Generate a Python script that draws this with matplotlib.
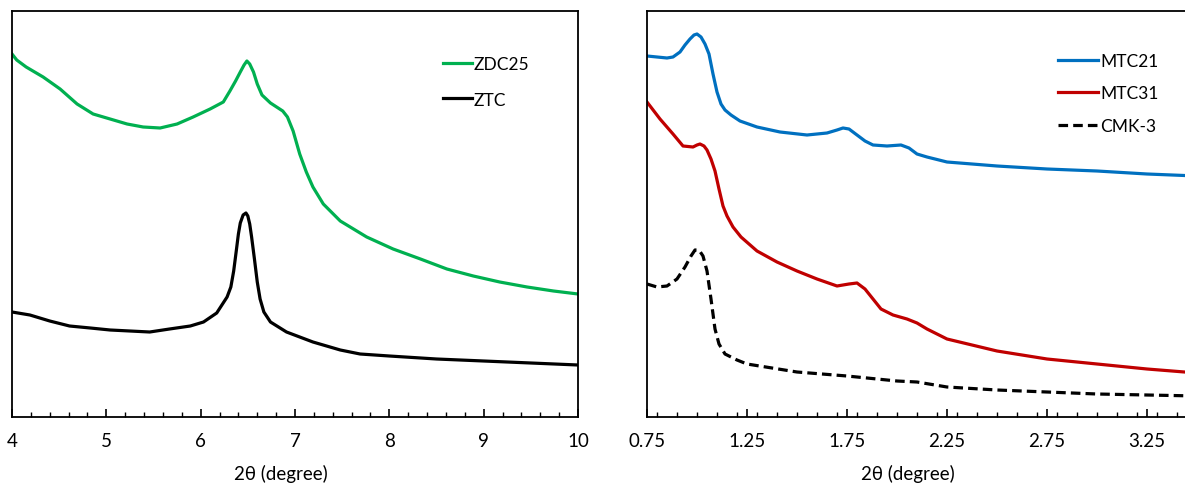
import matplotlib
matplotlib.use("Agg")
import matplotlib.pyplot as plt
from matplotlib.ticker import MultipleLocator, FixedLocator

plt.rcParams['font.family'] = ['Lato', 'DejaVu Sans']

# ---------------- data (intensity in a.u.) ----------------
zdc25_x = [4.00, 4.05, 4.15, 4.33, 4.51, 4.69, 4.86, 5.04, 5.22, 5.39, 5.57, 5.75, 5.92,
           6.10, 6.24, 6.31, 6.37, 6.42, 6.46, 6.49, 6.52, 6.56, 6.60, 6.65, 6.74, 6.87,
           6.92, 6.98, 7.05, 7.12, 7.19, 7.30, 7.48, 7.76, 8.04, 8.33, 8.61, 8.89, 9.17,
           9.46, 9.74, 10.00]
zdc25_y = [363, 357, 350, 340, 328, 313, 303, 298, 293, 290, 289, 293, 300,
           308, 315, 326, 336, 345, 352, 356, 353, 345, 333, 322, 314, 306,
           300, 286, 263, 245, 230, 213, 196, 180, 168, 158, 148, 141, 135,
           130, 126, 123]

ztc_x = [4.00, 4.19, 4.40, 4.61, 4.83, 5.04, 5.25, 5.46, 5.67, 5.89, 6.03, 6.17,
         6.28, 6.32, 6.35, 6.38, 6.40, 6.42, 6.45, 6.48, 6.50, 6.52, 6.54, 6.57,
         6.60, 6.63, 6.67, 6.74, 6.91, 7.19, 7.48, 7.69, 8.00, 8.50, 9.00, 9.50, 10.00]
ztc_y = [105, 102, 96, 91, 89, 87, 86, 85, 88, 91, 95, 104,
         120, 130, 146, 168, 183, 194, 202, 204, 201, 193, 180, 158,
         135, 118, 105, 95, 85, 75, 67, 63, 61, 58, 56, 54, 52]

mtc21_x = [0.75, 0.80, 0.85, 0.88, 0.915, 0.94, 0.965, 0.985, 1.00, 1.02, 1.04, 1.06,
           1.08, 1.10, 1.12, 1.14, 1.17, 1.215, 1.30, 1.415, 1.55, 1.65, 1.70, 1.73,
           1.76, 1.80, 1.84, 1.88, 1.95, 2.02, 2.06, 2.10, 2.15, 2.25, 2.50, 2.75,
           3.00, 3.25, 3.50]
mtc21_y = [361, 360, 359, 360, 365, 372, 378, 382, 383, 380, 373, 363,
           343, 325, 313, 307, 302, 296, 290, 285, 282, 284, 287, 289,
           288, 282, 276, 272, 271, 272, 269, 263, 260, 255, 251, 248,
           246, 243, 241]

mtc31_x = [0.75, 0.815, 0.88, 0.93, 0.98, 1.00, 1.015, 1.035, 1.05, 1.07, 1.09, 1.11,
           1.13, 1.15, 1.18, 1.22, 1.30, 1.40, 1.50, 1.60, 1.70, 1.76, 1.80, 1.84,
           1.88, 1.92, 1.98, 2.05, 2.10, 2.15, 2.25, 2.50, 2.75, 3.00, 3.25, 3.50]
mtc31_y = [315, 298, 283, 271, 270, 272, 273, 271, 267, 258, 246, 228,
           211, 201, 190, 180, 166, 155, 146, 138, 131, 133, 134, 128,
           118, 108, 102, 98, 94, 88, 78, 66, 58, 53, 48, 44]

cmk3_x = [0.75, 0.80, 0.85, 0.90, 0.94, 0.97, 0.99, 1.01, 1.03, 1.05, 1.07, 1.09,
          1.11, 1.14, 1.20, 1.25, 1.50, 1.75, 1.85, 2.00, 2.10, 2.25, 2.50, 2.75,
          3.00, 3.25, 3.50]
cmk3_y = [133, 130, 131, 138, 150, 161, 167, 167, 161, 146, 118, 88,
          73, 63, 57, 53, 45, 41, 39, 36, 35, 30, 27, 25,
          23, 22, 21]

left_labels = ["ZDC25", "ZTC"]
right_labels = ["MTC21", "MTC31", "CMK-3"]
right_ticks = [0.75, 1.25, 1.75, 2.25, 2.75, 3.25]
right_ticklabels = ["0.75", "1.25", "1.75", "2.25", "2.75", "3.25"]
xlabel = "2θ (degree)"

# ---------------- figure ----------------
W, H = 1185, 485
fig = plt.figure(figsize=(W / 100, H / 100), dpi=100)

def px_axes(x0, x1, ytop, ybot):
    return fig.add_axes([x0 / W, (H - ybot) / H, (x1 - x0) / W, (ybot - ytop) / H])

axL = px_axes(12, 578, 12, 418)
axR = px_axes(647, 1197, 12, 418)

green = "#00B050"
blue = "#0070C0"
red = "#C00000"

axL.plot(zdc25_x, zdc25_y, color=green, lw=2.3, label=left_labels[0])
axL.plot(ztc_x, ztc_y, color="black", lw=2.3, label=left_labels[1])
axL.set_xlim(4, 10)
axL.xaxis.set_major_locator(MultipleLocator(1))
axL.xaxis.set_minor_locator(MultipleLocator(0.2))

axR.plot(mtc21_x, mtc21_y, color=blue, lw=2.3, label=right_labels[0])
axR.plot(mtc31_x, mtc31_y, color=red, lw=2.3, label=right_labels[1])
axR.plot(cmk3_x, cmk3_y, color="black", lw=2.3, ls=(0, (3, 1.6)), label=right_labels[2])
axR.set_xlim(0.75, 3.5)
axR.xaxis.set_major_locator(FixedLocator(right_ticks))
axR.xaxis.set_minor_locator(MultipleLocator(0.1))
axR.set_xticklabels(right_ticklabels)

for ax in (axL, axR):
    ax.set_ylim(0, 406)
    ax.set_yticks([])
    for s in ax.spines.values():
        s.set_linewidth(1.3)
    ax.tick_params(axis='x', which='major', direction='in', length=6, width=1.2,
                   labelsize=13.5, pad=11, top=False)
    ax.tick_params(axis='x', which='minor', direction='in', length=3.5, width=1.0, top=False)
    ax.set_xlabel(xlabel, fontsize=13.5)
    ax.xaxis.set_label_coords(0.475, -0.115)

axL.legend(loc='upper left', bbox_to_anchor=(0.761, 0.888), frameon=False,
           fontsize=12.5, handlelength=1.7, handletextpad=0.1, labelspacing=1.1,
           borderpad=0, borderaxespad=0)
axR.legend(loc='upper left', bbox_to_anchor=(0.747, 0.897), frameon=False,
           fontsize=12.5, handlelength=2.3, handletextpad=0.15, labelspacing=0.95,
           borderpad=0, borderaxespad=0)

fig.savefig("out.png", dpi=100)
